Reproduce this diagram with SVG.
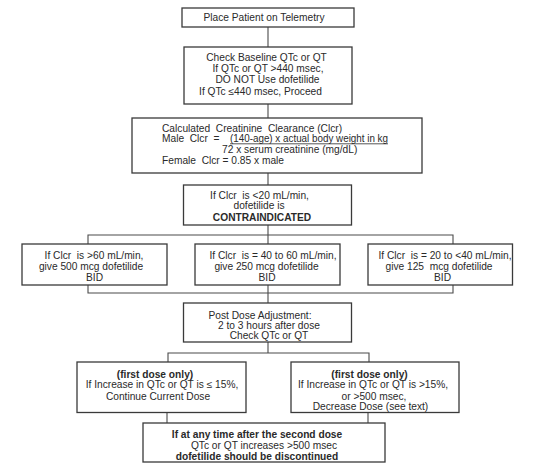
<svg xmlns="http://www.w3.org/2000/svg" width="545" height="465" viewBox="0 0 545 465">
<style>
.box{fill:#fff;stroke:#3a3a3a;stroke-width:1.3}
.ln{fill:none;stroke:#4a4a4a;stroke-width:1.1}
text{font-family:"Liberation Sans",Arial,sans-serif;font-size:10.2px;fill:#2a2a2a}
.c{text-anchor:middle}
.b{font-weight:bold}
</style>
<rect width="545" height="465" fill="#fff"/>
<g id="connectors">
<line class="ln" x1="268" y1="27" x2="268" y2="47"/>
<line class="ln" x1="268" y1="104" x2="268" y2="118"/>
<line class="ln" x1="268" y1="173" x2="268" y2="185"/>
<line class="ln" x1="268" y1="225" x2="268" y2="303"/>
<polyline class="ln" points="88,244 88,235 453,235 453,244"/>
<polyline class="ln" points="88,285 88,293 453,293 453,285"/>
<line class="ln" x1="268" y1="342" x2="268" y2="353"/>
<polyline class="ln" points="168,362 168,353 369,353 369,362"/>
<line class="ln" x1="167" y1="412" x2="167" y2="423"/>
<line class="ln" x1="368" y1="412" x2="368" y2="423"/>
</g>
<g id="telemetry">
<rect class="box" x="182" y="8" width="172" height="19"/>
<text class="c" x="264" y="21">Place Patient on Telemetry</text>
</g>
<g id="baseline">
<rect class="box" x="184" y="47" width="168" height="57"/>
<text class="c" x="266.5" y="60.5">Check Baseline QTc or QT</text>
<text class="c" x="268" y="72">If QTc or QT &gt;440 msec,</text>
<text class="c" x="267.5" y="82.6">DO NOT Use dofetilide</text>
<text class="c" x="260.5" y="95.3">If QTc  ≤440 msec, Proceed</text>
</g>
<g id="clearance">
<rect class="box" x="132" y="118" width="290" height="55"/>
<text x="162" y="132" xml:space="preserve">Calculated  Creatinine  Clearance (Clcr)</text>
<text x="162" y="142" xml:space="preserve">Male  Clcr  =</text>
<text x="230" y="142" textLength="158" lengthAdjust="spacingAndGlyphs">(140-age) x actual body weight in kg</text>
<line x1="230" y1="143.8" x2="388" y2="143.8" stroke="#2a2a2a" stroke-width="0.8"/>
<text x="222" y="153">72 x serum creatinine (mg/dL)</text>
<text x="162" y="164.3" xml:space="preserve">Female  Clcr = 0.85 x male</text>
</g>
<g id="contraindicated">
<rect class="box" x="183.5" y="185" width="168" height="40"/>
<text class="c" x="259.5" y="198.6" xml:space="preserve">If Clcr  is &lt;20 mL/min,</text>
<text class="c" x="259" y="208.6">dofetilide is</text>
<text class="c b" x="262" y="221.3">CONTRAINDICATED</text>
</g>
<g id="dose500">
<rect class="box" x="22" y="244" width="145" height="41"/>
<text class="c" x="94" y="258.6" xml:space="preserve">If Clcr  is &gt;60 mL/min,</text>
<text class="c" x="91" y="270.3">give 500 mcg dofetilide</text>
<text class="c" x="94.5" y="281.3">BID</text>
</g>
<g id="dose250">
<rect class="box" x="195" y="244" width="145" height="41"/>
<text class="c" x="273" y="258.6" xml:space="preserve">If Clcr  is = 40 to 60 mL/min,</text>
<text class="c" x="266.5" y="270.3">give 250 mcg dofetilide</text>
<text class="c" x="267" y="281.3">BID</text>
</g>
<g id="dose125">
<rect class="box" x="368" y="244" width="144.5" height="41"/>
<text class="c" x="445" y="258.6" xml:space="preserve">If Clcr  is = 20 to &lt;40 mL/min,</text>
<text class="c" x="439" y="270.3" xml:space="preserve">give 125  mcg dofetilide</text>
<text class="c" x="442.5" y="281.3">BID</text>
</g>
<g id="postdose">
<rect class="box" x="183.5" y="303" width="168" height="39"/>
<text class="c" x="260" y="318.6">Post Dose Adjustment:</text>
<text class="c" x="269" y="328.6">2 to 3 hours after dose</text>
<text class="c" x="269" y="338.6">Check QTc or QT</text>
</g>
<g id="continue">
<rect class="box" x="77" y="362" width="169" height="50.5"/>
<text class="c b" x="155" y="377.8">(first dose only)</text>
<text class="c" x="162" y="388.2">If Increase in QTc or QT is ≤ 15%,</text>
<text class="c" x="158" y="399.7">Continue Current Dose</text>
</g>
<g id="decrease">
<rect class="box" x="291" y="362" width="168" height="50.5"/>
<text class="c b" x="369.5" y="377.8">(first dose only)</text>
<text class="c" x="373" y="388.2">If Increase in QTc or QT is &gt;15%,</text>
<text class="c" x="374" y="399.7">or &gt;500 msec,</text>
<text class="c" x="370.5" y="410">Decrease Dose (see text)</text>
</g>
<g id="discontinue">
<rect class="box" x="143" y="423" width="242" height="39"/>
<text class="c b" x="257" y="438">If at any time after the second dose</text>
<text class="c" x="264" y="449.2">QTc or QT increases &gt;500 msec</text>
<text class="c b" x="257" y="460.4">dofetilide should be discontinued</text>
</g>
</svg>
